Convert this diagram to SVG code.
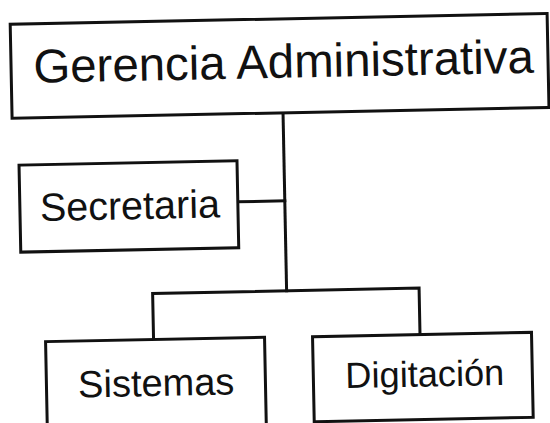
<svg xmlns="http://www.w3.org/2000/svg" width="550" height="423" viewBox="0 0 550 423">
  <style>
    .box { fill: #ffffff; stroke: #111111; stroke-width: 3; }
    .conn { fill: none; stroke: #111111; stroke-width: 3; stroke-linecap: square; }
    .lbl { font-family: "Liberation Sans", Arial, sans-serif; fill: #111111; text-anchor: middle; }
  </style>
  <rect x="0" y="0" width="550" height="423" fill="#ffffff"/>
  <g transform="rotate(-1.15 275 211)">
    <g id="connectors">
      <path class="conn" d="M285 113 V291"/>
      <path class="conn" d="M238 201 H285"/>
      <path class="conn" d="M151 337 V291 H417.5 V337.5"/>
    </g>
    <g id="gerencia">
      <rect class="box" x="14" y="19" width="537" height="94"/>
      <text class="lbl" x="286.5" y="78" font-size="47.4">Gerencia Administrativa</text>
    </g>
    <g id="secretaria">
      <rect class="box" x="20" y="160" width="218" height="87"/>
      <text class="lbl" x="130" y="216.3" font-size="39.5">Secretaria</text>
    </g>
    <g id="sistemas">
      <rect class="box" x="43" y="337" width="219" height="110"/>
      <text class="lbl" x="152.8" y="393.5" font-size="38">Sistemas</text>
    </g>
    <g id="digitacion">
      <rect class="box" x="310" y="337.5" width="219" height="85"/>
      <text class="lbl" x="421.5" y="389.5" font-size="36.2">Digitación</text>
    </g>
  </g>
</svg>
